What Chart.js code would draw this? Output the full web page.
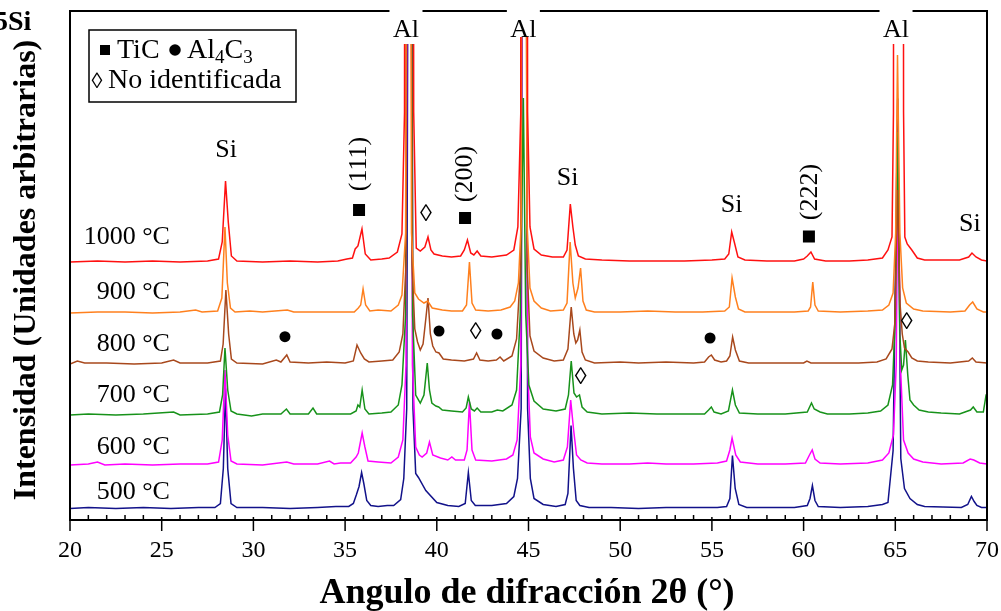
<!DOCTYPE html>
<html><head><meta charset="utf-8">
<script src="https://cdn.jsdelivr.net/npm/chart.js@4.4.0/dist/chart.umd.min.js"></script>
<style>html,body{margin:0;padding:0;background:#fff;}#wrap{width:1001px;height:611px;position:relative;}</style>
</head><body><div id="wrap"><canvas id="c" width="1001" height="611"></canvas></div>
<script>
// ---- data (2θ in degrees, intensity in arbitrary units above each pattern's baseline) ----
const temperatures = ['1000 °C', '900 °C', '800 °C', '700 °C', '600 °C', '500 °C'];
const seriesOffsets = [258, 207, 156, 105, 55, 11.5];
const xTickValues = [20, 25, 30, 35, 40, 45, 50, 55, 60, 65, 70];

const pattern1000 = [[20,0],[21.5,1],[23,0],[24.5,1],[26,0],[27.5,1],[28.1,3],[28.3,20],[28.48,81],[28.63,40],[28.8,6],[29.1,1],[30.5,0],[32,1],[33.5,0],[34.6,1],[35.1,3],[35.4,4],[35.55,13],[35.7,16],[35.92,33],[36.1,8],[36.4,2],[37,3],[37.4,4],[37.85,10],[38.1,28],[38.24,150],[38.3,1500],[38.68,1500],[38.74,150],[38.88,14],[39.1,11],[39.35,15],[39.52,25],[39.68,12],[39.85,8],[40.3,6],[40.8,5],[41.3,6],[41.5,12],[41.67,22],[41.85,9],[42.02,7],[42.2,11],[42.4,6],[43,5],[43.4,6],[43.8,7],[44.2,12],[44.42,35],[44.58,150],[44.63,1500],[44.9,1500],[44.95,150],[45.08,35],[45.3,13],[45.7,7],[46.3,5],[46.9,5],[47.1,12],[47.28,58],[47.42,35],[47.55,17],[47.72,6],[48.1,3],[49,2],[50.5,1],[52,1],[53.5,1],[55,2],[55.7,3],[55.92,8],[56.08,30],[56.22,20],[56.42,5],[56.8,2],[58,1],[59.5,1],[60,3],[60.2,6],[60.4,10],[60.6,3],[61.2,1],[62.5,1],[63.5,2],[64.3,4],[64.6,12],[64.82,25],[64.9,150],[64.95,1500],[65.4,1500],[65.45,150],[65.52,25],[65.65,18],[65.9,12],[66.2,4],[66.6,2],[67.5,2],[68.5,2],[69,5],[69.18,9],[69.4,5],[69.7,2],[70,1]];
const pattern900 = [[20,0],[21.5,1],[23,1],[24.5,0],[26,1],[26.85,3],[27.2,1],[28.05,2],[28.28,15],[28.45,86],[28.58,30],[28.75,5],[29,1],[29.8,2],[30.5,1],[31.85,3],[32.2,1],[33.5,1],[34.8,1],[35.5,1],[35.72,5],[35.85,8],[35.98,24],[36.12,8],[36.35,2],[36.8,3],[37.5,2],[37.9,8],[38.1,18],[38.3,80],[38.45,1500],[38.62,80],[38.8,20],[39,14],[39.3,10],[39.5,12],[39.75,5],[40.3,3],[40.8,2],[41.4,2],[41.62,8],[41.78,51],[41.92,10],[42.12,3],[42.8,2],[43.5,3],[44,6],[44.25,12],[44.45,30],[44.6,90],[44.75,1500],[44.92,90],[45.08,25],[45.3,12],[45.7,5],[46.2,2],[46.9,3],[47.1,10],[47.27,71],[47.42,30],[47.55,15],[47.7,25],[47.84,45],[47.97,12],[48.15,3],[48.6,1],[50,1],[51.5,2],[53,1],[54.5,1],[55.7,2],[55.95,6],[56.1,35],[56.28,16],[56.45,4],[56.8,1],[58,1],[59.5,1],[60.25,2],[60.38,6],[60.5,31],[60.62,8],[60.8,2],[62,1],[63.5,2],[64.3,3],[64.65,8],[64.88,20],[65.02,80],[65.12,258],[65.25,80],[65.4,25],[65.6,10],[66,4],[66.5,2],[68,1],[68.8,2],[69.05,8],[69.22,11],[69.45,4],[69.8,1],[70,1]];
const pattern800 = [[20,0],[20.4,3],[20.8,1],[22,1],[23.5,0],[25,1],[25.65,4],[26,1],[27.5,1],[28.2,3],[28.35,20],[28.5,74],[28.65,30],[28.8,5],[29.1,1],[30.5,0],[31.25,4],[31.5,2],[31.82,9],[32,2],[33,1],[34,2],[35,1],[35.45,3],[35.65,19],[35.85,11],[36.05,5],[36.3,2],[37,3],[37.6,4],[37.95,12],[38.15,30],[38.32,100],[38.48,1500],[38.65,100],[38.8,35],[38.95,22],[39.1,14],[39.25,20],[39.4,45],[39.52,66],[39.65,30],[39.78,18],[39.95,12],[40.12,11],[40.35,5],[40.8,4],[41.5,3],[42,5],[42.17,11],[42.35,4],[42.8,3],[43.25,4],[43.45,7],[43.65,3],[44.1,8],[44.35,25],[44.58,100],[44.75,1500],[44.92,100],[45.08,28],[45.3,13],[45.8,6],[46.4,3],[46.9,4],[47.15,15],[47.33,57],[47.47,30],[47.58,21],[47.68,24],[47.8,34],[47.92,12],[48.1,4],[48.6,1],[50,2],[51,1],[52.5,2],[54,1],[54.6,2],[54.82,7],[54.97,9],[55.15,4],[55.5,2],[55.8,3],[55.98,8],[56.13,27],[56.28,14],[56.5,3],[57,1],[58.5,1],[60,1],[60.18,3],[60.4,1],[61.5,1],[63,1],[64,2],[64.5,5],[64.82,15],[64.97,40],[65.12,174],[65.26,60],[65.38,30],[65.5,16],[65.7,12],[65.9,6],[66.2,3],[66.8,2],[68,1],[69,3],[69.2,6],[69.4,2],[70,1]];
const pattern700 = [[20,0],[21,1],[22.5,0],[24,1],[25.65,3],[26,0],[27.5,1],[28.15,3],[28.32,20],[28.45,67],[28.6,25],[28.78,4],[29.1,1],[29.9,-1],[30.5,1],[31.5,1],[31.8,6],[32,1],[33,1],[33.25,7],[33.45,1],[34.5,1],[35.3,1],[35.6,4],[35.7,10],[35.8,8],[35.93,25],[36.08,6],[36.3,1],[37,2],[37.5,3],[37.9,10],[38.1,30],[38.3,100],[38.5,1500],[38.68,100],[38.85,20],[39.1,12],[39.3,20],[39.48,52],[39.6,25],[39.73,12],[39.95,9],[40.1,8],[40.3,5],[40.8,4],[41.4,3],[41.6,7],[41.72,18],[41.88,6],[42.05,4],[42.2,7],[42.4,3],[43,3],[43.3,5],[43.6,4],[44.1,10],[44.35,25],[44.55,100],[44.72,317],[44.85,100],[45.02,30],[45.3,14],[45.8,6],[46.5,4],[47,6],[47.18,20],[47.33,54],[47.48,22],[47.62,18],[47.78,20],[47.92,8],[48.2,3],[49,1],[50.5,2],[52,1],[53.5,1],[54.6,1],[54.82,5],[54.97,8],[55.12,3],[55.5,1],[55.9,4],[56.12,25],[56.28,10],[56.5,2],[57.5,1],[59,1],[60.2,3],[60.43,12],[60.58,6],[60.9,3],[61.3,1],[62.5,1],[63.5,2],[64.2,4],[64.6,10],[64.85,30],[65,100],[65.13,283],[65.25,80],[65.35,45],[65.45,50],[65.55,75],[65.68,40],[65.8,15],[66,10],[66.3,5],[66.8,3],[67.5,2],[68.5,1],[69.1,5],[69.25,8],[69.45,3],[69.8,3],[69.95,20],[70,20]];
const pattern600 = [[20,0],[21,1],[21.5,3],[21.9,0],[23,1],[24.5,0],[26,1],[27.5,1],[28.1,3],[28.3,25],[28.45,95],[28.6,30],[28.78,4],[29.1,1],[30.5,0],[31.82,3],[32.2,1],[33.5,1],[34.15,4],[34.4,1],[34.75,2],[35.3,2],[35.6,8],[35.72,12],[35.93,32],[36.08,18],[36.25,4],[36.8,3],[37.5,2],[37.9,8],[38.15,25],[38.32,100],[38.5,1500],[38.67,100],[38.85,18],[39.05,10],[39.2,8],[39.45,12],[39.6,23],[39.78,10],[40.2,7],[40.6,5],[40.82,8],[41.02,5],[41.5,5],[41.65,15],[41.78,63],[41.92,15],[42.12,5],[43,4],[43.8,6],[44.15,10],[44.38,25],[44.58,100],[44.77,1500],[44.95,100],[45.1,28],[45.3,12],[45.8,6],[46.4,3],[46.9,5],[47.12,18],[47.3,65],[47.46,35],[47.62,10],[47.85,5],[48.2,2],[49,1],[50.5,1],[51.5,2],[52.5,1],[54,1],[55.3,2],[55.8,4],[55.98,15],[56.1,27],[56.3,10],[56.55,3],[57.5,1],[59,1],[60.1,2],[60.32,10],[60.47,15],[60.62,6],[60.9,2],[62,1],[63.5,2],[64.3,5],[64.65,12],[64.9,30],[65.05,100],[65.15,310],[65.28,100],[65.45,25],[65.7,12],[66,6],[66.5,3],[67.5,1],[68.7,2],[69.08,6],[69.28,5],[69.6,2],[70,1]];
const pattern500 = [[20,0],[21,1],[22.5,0],[24,1],[25.5,0],[27,1],[27.9,1],[28.2,5],[28.36,40],[28.48,120],[28.6,40],[28.78,5],[29.1,1],[30.5,1],[32,0],[33.5,1],[34.5,2],[35.2,2],[35.45,5],[35.62,14],[35.76,22],[35.9,36],[36.02,25],[36.18,8],[36.4,3],[36.8,2],[37.3,3],[37.65,3],[38.03,9],[38.2,30],[38.36,100],[38.55,1500],[38.7,100],[38.85,35],[39,31],[39.4,18],[40,6],[40.6,3],[41.2,2],[41.55,5],[41.72,36],[41.88,8],[42.1,3],[43,3],[43.8,5],[44.2,12],[44.4,30],[44.6,100],[44.78,1500],[44.95,100],[45.1,30],[45.3,10],[45.8,4],[46.5,2],[47,4],[47.15,15],[47.32,83],[47.45,40],[47.6,8],[47.8,3],[48.3,1],[49.5,1],[51,0],[52.5,1],[54,1],[55.3,1],[55.8,2],[55.98,10],[56.12,53],[56.27,20],[56.47,4],[56.9,1],[58,1],[59.5,1],[60.2,3],[60.35,10],[60.48,23],[60.62,8],[60.8,2],[62,1],[63.5,2],[64.3,4],[64.6,6],[64.88,58],[65.13,410],[65.3,50],[65.5,20],[65.8,10],[66.2,4],[66.6,2],[68.6,1],[68.95,4],[69.15,12],[69.3,7],[69.45,3],[69.7,1],[70,1]];
const patterns = [pattern1000, pattern900, pattern800, pattern700, pattern600, pattern500];

// annotations: peak identification labels (2θ, intensity)
const peakLabels = [
  {text:'Si', x:28.51, y:370},
  {text:'Si', x:47.13, y:342},
  {text:'Si', x:56.08, y:314.5},
  {text:'Si', x:69.07, y:295.5},
  {text:'(111)', x:35.76, y:356, rotate:true},
  {text:'(200)', x:41.54, y:346, rotate:true},
  {text:'(222)', x:60.35, y:328, rotate:true}
];
const alLabels = [
  {text:'Al', x:38.32, y:490, boxTo:476},
  {text:'Al', x:44.72, y:490, boxTo:483},
  {text:'Al', x:65.04, y:490, boxTo:476}
];
const tiCMarks = [[35.76,310],[41.54,302],[60.29,283.5]];
const al4c3Marks = [[31.72,183.3],[40.12,189],[43.28,186],[54.9,182]];
const unidentifiedMarks = [[39.41,308],[42.12,190],[47.85,145],[65.62,200]];
const tempLabelX = 25.45;
const tempLabelY = [282.5, 227.5, 176, 124.5, 72.5, 27.5];

// ---- styles ----
const seriesColors = ['#ff1010', '#ff801e', '#a8481c', '#17921a', '#ff00ff', '#12128a'];
const SERIF = '"Liberation Serif","Times New Roman",serif';

function squareMark(ctx, cx, cy, s) { ctx.fillRect(cx - s / 2, cy - s / 2, s, s); }
function circleMark(ctx, cx, cy, d) { ctx.beginPath(); ctx.arc(cx, cy, d / 2, 0, Math.PI * 2); ctx.fill(); }
function lozenge(ctx, ch, cx, cy, targetW) {
  ctx.font = '100px ' + SERIF; ctx.textAlign = 'left'; ctx.textBaseline = 'alphabetic';
  const m = ctx.measureText(ch);
  const size = 100 * targetW / (m.actualBoundingBoxRight + m.actualBoundingBoxLeft);
  ctx.font = size + 'px ' + SERIF;
  const m2 = ctx.measureText(ch);
  ctx.fillText(ch, cx - (m2.actualBoundingBoxRight - m2.actualBoundingBoxLeft) / 2,
               cy + (m2.actualBoundingBoxAscent - m2.actualBoundingBoxDescent) / 2);
}

const deco = {
  id: 'deco',
  afterDatasetsDraw(chart) {
    const {ctx, chartArea: a, scales: {x, y}} = chart;
    ctx.save();
    // warm-up of the lozenge glyph (off-canvas)
    ctx.font = '100px ' + SERIF; ctx.fillText('◊', -500, -500); ctx.measureText('◊');
    ctx.fillStyle = '#000'; ctx.strokeStyle = '#000';
    ctx.lineWidth = 2;
    ctx.strokeRect(a.left, a.top, a.right - a.left, a.bottom - a.top);
    ctx.lineWidth = 1.5;
    const xMin = xTickValues[0], xMax = xTickValues[xTickValues.length - 1];
    for (let v = xMin; v <= xMax; v += 1) {
      const px = x.getPixelForValue(v);
      ctx.beginPath();
      if (xTickValues.includes(v)) { ctx.moveTo(px, a.bottom - 3); ctx.lineTo(px, a.bottom + 11); }
      else { ctx.moveTo(px, a.bottom); ctx.lineTo(px, a.bottom - 5); }
      ctx.stroke();
    }
    alLabels.forEach(l => {
      const cx = x.getPixelForValue(l.x);
      const by = y.getPixelForValue(l.boxTo);
      ctx.fillStyle = '#fff';
      ctx.fillRect(cx - 16.5, a.top - 3, 33, by - a.top + 3);
      ctx.fillStyle = '#000';
      ctx.font = '26px ' + SERIF; ctx.textAlign = 'center'; ctx.textBaseline = 'middle';
      ctx.fillText(l.text, cx, y.getPixelForValue(l.y));
    });
    ctx.font = '26px ' + SERIF; ctx.textAlign = 'center'; ctx.textBaseline = 'middle';
    peakLabels.forEach(l => {
      const cx = x.getPixelForValue(l.x), cy = y.getPixelForValue(l.y);
      if (l.rotate) {
        ctx.save(); ctx.translate(cx, cy); ctx.rotate(-Math.PI / 2);
        ctx.fillText(l.text, 0, 0); ctx.restore();
      } else ctx.fillText(l.text, cx, cy);
    });
    ctx.textAlign = 'right';
    temperatures.forEach((t, i) => {
      ctx.fillText(t, x.getPixelForValue(tempLabelX), y.getPixelForValue(tempLabelY[i]));
    });
    tiCMarks.forEach(p => squareMark(ctx, x.getPixelForValue(p[0]), y.getPixelForValue(p[1]), 12));
    al4c3Marks.forEach(p => circleMark(ctx, x.getPixelForValue(p[0]), y.getPixelForValue(p[1]), 11));
    unidentifiedMarks.forEach(p => lozenge(ctx, '◊', x.getPixelForValue(p[0]), y.getPixelForValue(p[1]), 12));
    // legend box
    ctx.fillStyle = '#fff'; ctx.fillRect(89, 30, 207, 72);
    ctx.lineWidth = 1.5; ctx.strokeStyle = '#000'; ctx.strokeRect(89, 30, 207, 72);
    ctx.fillStyle = '#000';
    squareMark(ctx, 105, 50, 10);
    circleMark(ctx, 175, 50, 11.5);
    lozenge(ctx, '◊', 97, 80, 11);
    ctx.textAlign = 'left'; ctx.textBaseline = 'alphabetic';
    ctx.font = '28px ' + SERIF;
    ctx.fillText('TiC', 117, 58);
    let cx = 187;
    ctx.fillText('Al', cx, 58); cx += ctx.measureText('Al').width;
    ctx.font = '19px ' + SERIF; ctx.fillText('4', cx, 63); cx += ctx.measureText('4').width;
    ctx.font = '28px ' + SERIF; ctx.fillText('C', cx, 58); cx += ctx.measureText('C').width;
    ctx.font = '19px ' + SERIF; ctx.fillText('3', cx, 63);
    ctx.font = '28px ' + SERIF;
    ctx.fillText('No identificada', 108, 88);
    ctx.restore();
  },
  afterDraw(chart) {
    const {ctx} = chart;
    ctx.save();
    ctx.fillStyle = '#000';
    ctx.font = 'bold 36px ' + SERIF; ctx.textAlign = 'center'; ctx.textBaseline = 'middle';
    ctx.fillText('Angulo de difracción 2θ (°)', 527, 594);
    ctx.save(); ctx.translate(27, 270); ctx.rotate(-Math.PI / 2);
    ctx.font = 'bold 32px ' + SERIF;
    ctx.fillText('Intensidad (Unidades arbitrarias)', 0, 0);
    ctx.restore();
    ctx.font = 'bold 28px ' + SERIF; ctx.textAlign = 'left'; ctx.textBaseline = 'alphabetic';
    const w5 = ctx.measureText('5').width;
    ctx.fillText('5Si', 8 - w5, 30);
    ctx.restore();
  }
};

new Chart(document.getElementById('c'), {
  type: 'line',
  data: {
    datasets: patterns.map((p, i) => ({
      label: temperatures[i],
      data: p.map(([t, h]) => ({x: t, y: h + seriesOffsets[i]})),
      borderColor: seriesColors[i],
      borderWidth: 1.5,
      pointRadius: 0,
      tension: 0,
      fill: false
    }))
  },
  options: {
    responsive: false, animation: false, devicePixelRatio: 1,
    layout: {padding: {left: 70, right: 14, top: 11, bottom: 0}},
    plugins: {legend: {display: false}, tooltip: {enabled: false}},
    scales: {
      x: {
        type: 'linear', min: 20, max: 70,
        grid: {display: false, drawTicks: false},
        border: {display: false},
        ticks: {stepSize: 5, autoSkip: false, maxRotation: 0, padding: 16, color: '#000',
                font: {family: SERIF, size: 24}},
        afterFit(s) { s.height = 91; s.paddingLeft = 0; s.paddingRight = 0; }
      },
      y: {type: 'linear', min: 0, max: 509, display: false}
    }
  },
  plugins: [deco]
});
</script></body></html>
